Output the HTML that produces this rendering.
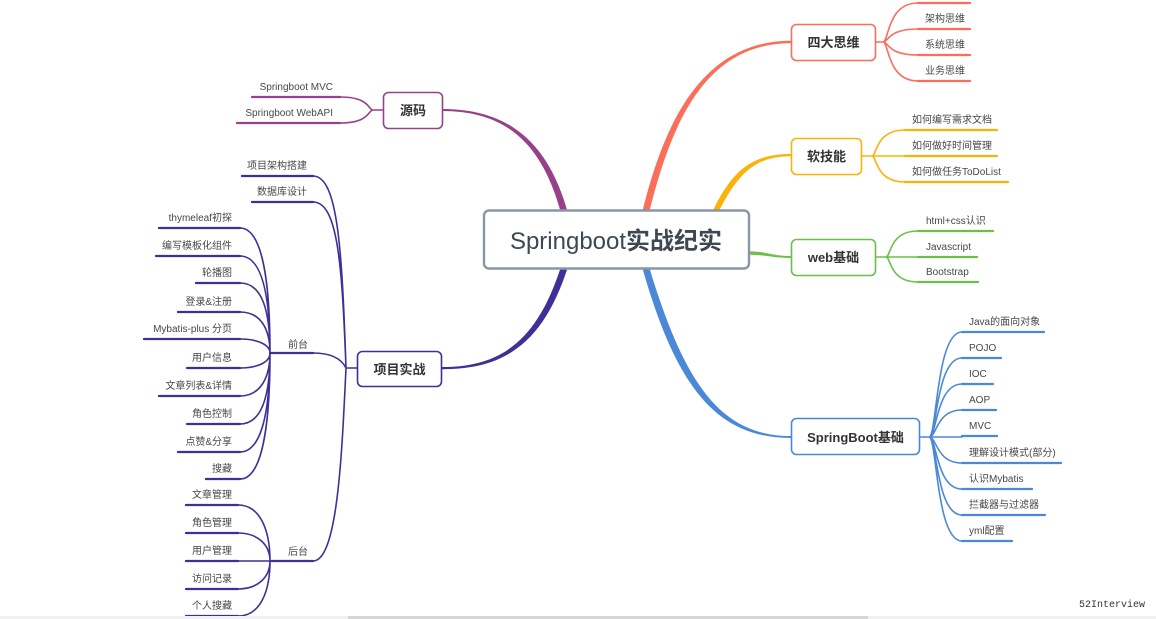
<!DOCTYPE html>
<html><head><meta charset="utf-8"><style>
html,body{margin:0;padding:0;background:#fff;overflow:hidden;width:1156px;height:619px}
svg{display:block}
text{font-family:"Liberation Sans","Noto Sans CJK SC",sans-serif;font-size:10px;fill:#474747}
.b{font-size:13px;font-weight:bold;fill:#333}
</style></head><body>
<svg width="1156" height="619" viewBox="0 0 1156 619" xmlns="http://www.w3.org/2000/svg">
<!-- main tapered branches -->
<path d="M641.5,215 C664.5,119 704,40.8 791,40.8 L791,43.2 C706,43.2 671.5,121 648.5,215 Z" fill="#fa6e5a"/>
<path d="M711,215 C732,168 754,154 791,154 L791,156.2 C756,156.2 738,172 717,215 Z" fill="#fbb30a"/>
<path d="M745,251.3 C770,251.3 770,256 791,256 L791,258 C770,258 770,254.7 745,254.7 Z" fill="#6cc04a"/>
<path d="M641.5,265 C676,387 716,438 791,438 L791,436 C720,436 684,383 648.5,265 Z" fill="#4b89d8"/>
<path d="M561.5,265 C537,343 499,367 442,367 L442,369.2 C501,369.2 543,347 568.5,265 Z" fill="#3e3196"/>
<path d="M561.5,215 C542,141 504,111 442,111 L442,109 C506,109 548,139 568.5,215 Z" fill="#97418a"/>

<g fill="none" stroke-linecap="round">
<!-- 四大思维 -->
<g stroke="#fa6e5a">
<path stroke-width="1.6" d="M876,42 H883 C889,42 887,3 918,3 M883,42 C889,42 887,29 918,29 M883,42 C889,42 887,55 918,55 M883,42 C889,42 887,81 918,81"/>
<path stroke-width="2.3" d="M918,3 H970 M918,29 H970 M918,55 H970 M918,81 H970"/>
</g>
<!-- 软技能 -->
<g stroke="#fbb30a">
<path stroke-width="1.6" d="M862,156 H872 C877,156 875,130 905,130 M872,156 H905 M872,156 C877,156 875,182 905,182"/>
<path stroke-width="2.3" d="M905,130 H997 M905,156 H997 M905,182 H1008"/>
</g>
<!-- web基础 -->
<g stroke="#6cc04a">
<path stroke-width="1.6" d="M876,257 H886 C891,257 889,231 918,231 M886,257 H918 M886,257 C891,257 889,282 918,282"/>
<path stroke-width="2.3" d="M918,231 H993 M918,257 H977 M918,282 H978"/>
</g>
<!-- SpringBoot基础 -->
<g stroke="#4b89d8">
<path stroke-width="1.6" d="M920,437 H929 C937,437 936,332 962,332 M929,437 C937,437 936,358 962,358 M929,437 C937,437 936,384 962,384 M929,437 C937,437 936,410 962,410 M929,437 H962 M929,437 C937,437 936,463 962,463 M929,437 C937,437 936,489 962,489 M929,437 C937,437 936,515 962,515 M929,437 C937,437 936,541 962,541"/>
<path stroke-width="2.3" d="M962,332 H1044 M962,358 H1001 M962,384 H993 M962,410 H996 M962,436 H997 M962,463 H1061 M962,489 H1032 M962,515 H1045 M962,541 H1012"/>
</g>
<!-- 源码 -->
<g stroke="#97418a">
<path stroke-width="1.6" d="M383,110 H373 C368,110 370,97 340,97 M373,110 C368,110 370,123 340,123"/>
<path stroke-width="2.3" d="M340,97 H252 M340,123 H237"/>
</g>
<!-- 项目实战 -->
<g stroke="#3e3196">
<path stroke-width="1.6" d="M357,368 H346 M346,368 C342,250 338,176 313,176 M346,368 C342,265 338,202 313,202 M346,368 C342,360 333,353 313,353 M346,368 C342,450 338,561 313,561"/>
<path stroke-width="2.3" d="M313,176 H242 M313,202 H252 M313,353 H270 M313,561 H270"/>
<!-- 前台 children -->
<path stroke-width="1.6" d="M270,353 C270,280 262,228 240,228 M270,353 C270,295 262,256 240,256 M270,353 C270,310 262,283 240,283 M270,353 C270,328 260,312 240,312 M270,353 C270,345 258,339 240,339 M270,353 C270,362 258,368 240,368 M270,353 C270,378 260,396 240,396 M270,353 C270,395 262,424 240,424 M270,353 C270,410 262,452 240,452 M270,353 C270,426 262,479 240,479"/>
<path stroke-width="2.3" d="M240,228 H159 M240,256 H156 M240,283 H196 M240,312 H178 M240,339 H144 M240,368 H187 M240,396 H159 M240,424 H187 M240,452 H178 M240,479 H206"/>
<!-- 后台 children -->
<path stroke-width="1.6" d="M270,561 C270,530 260,505 238,505 M270,561 C270,545 258,533 238,533 M270,561 H238 M270,561 C270,577 258,589 238,589 M270,561 C270,592 260,616 238,616"/>
<path stroke-width="2.3" d="M238,505 H186 M238,533 H186 M238,561 H186 M238,589 H186 M238,616 H186"/>
</g>
</g>

<!-- boxes -->
<rect x="484" y="210.5" width="265" height="58" rx="5" fill="#fff" stroke="#8a96a8" stroke-width="2.4"/>
<text x="616" y="249" text-anchor="middle" style="font-size:24px;fill:#3d4853">Springboot<tspan style="font-weight:bold">实战纪实</tspan></text>

<rect x="791.5" y="24.5" width="84" height="36" rx="5" fill="#fff" stroke="#fa6e5a" stroke-width="1.6"/>
<text class="b" x="833.5" y="47" text-anchor="middle">四大思维</text>
<rect x="791.5" y="138.5" width="70" height="36" rx="5" fill="#fff" stroke="#fbb30a" stroke-width="1.6"/>
<text class="b" x="826.5" y="161" text-anchor="middle">软技能</text>
<rect x="791.5" y="239.5" width="84" height="36" rx="5" fill="#fff" stroke="#6cc04a" stroke-width="1.6"/>
<text class="b" x="833.5" y="262" text-anchor="middle">web基础</text>
<rect x="791.5" y="418.5" width="128" height="36" rx="5" fill="#fff" stroke="#4b89d8" stroke-width="1.6"/>
<text class="b" x="855.5" y="442" text-anchor="middle">SpringBoot基础</text>
<rect x="383.5" y="92.5" width="59" height="36" rx="5" fill="#fff" stroke="#97418a" stroke-width="1.6"/>
<text class="b" x="413" y="115" text-anchor="middle">源码</text>
<rect x="357.5" y="351.5" width="84" height="35" rx="5" fill="#fff" stroke="#3e3196" stroke-width="1.6"/>
<text class="b" x="399.5" y="374" text-anchor="middle">项目实战</text>

<!-- right texts -->
<text x="925" y="22">架构思维</text>
<text x="925" y="48">系统思维</text>
<text x="925" y="74">业务思维</text>
<text x="912" y="123">如何编写需求文档</text>
<text x="912" y="149">如何做好时间管理</text>
<text x="912" y="175">如何做任务ToDoList</text>
<text x="926" y="224">html+css认识</text>
<text x="926" y="250">Javascript</text>
<text x="926" y="275">Bootstrap</text>
<text x="969" y="325">Java的面向对象</text>
<text x="969" y="351">POJO</text>
<text x="969" y="377">IOC</text>
<text x="969" y="403">AOP</text>
<text x="969" y="429">MVC</text>
<text x="969" y="456">理解设计模式(部分)</text>
<text x="969" y="482">认识Mybatis</text>
<text x="969" y="508">拦截器与过滤器</text>
<text x="969" y="534">yml配置</text>

<!-- left texts -->
<g text-anchor="end">
<text x="333" y="90">Springboot MVC</text>
<text x="333" y="116">Springboot WebAPI</text>
<text x="307" y="169">项目架构搭建</text>
<text x="307" y="195">数据库设计</text>
<text x="232" y="221">thymeleaf初探</text>
<text x="232" y="249">编写模板化组件</text>
<text x="232" y="276">轮播图</text>
<text x="232" y="305">登录&amp;注册</text>
<text x="232" y="332">Mybatis-plus 分页</text>
<text x="232" y="361">用户信息</text>
<text x="232" y="389">文章列表&amp;详情</text>
<text x="232" y="417">角色控制</text>
<text x="232" y="445">点赞&amp;分享</text>
<text x="232" y="472">搜藏</text>
<text x="232" y="498">文章管理</text>
<text x="232" y="526">角色管理</text>
<text x="232" y="554">用户管理</text>
<text x="232" y="582">访问记录</text>
<text x="232" y="609">个人搜藏</text>
</g>
<text x="288" y="348">前台</text>
<text x="288" y="555">后台</text>

<!-- scrollbar -->
<rect x="0" y="616" width="1156" height="3" fill="#f1f1f1"/>
<rect x="348" y="616" width="520" height="3" fill="#d6d6d6"/>
<text x="1079" y="607" style="font-family:'Liberation Mono',monospace;font-size:10px;fill:#333">52Interview</text>
</svg>
</body></html>
